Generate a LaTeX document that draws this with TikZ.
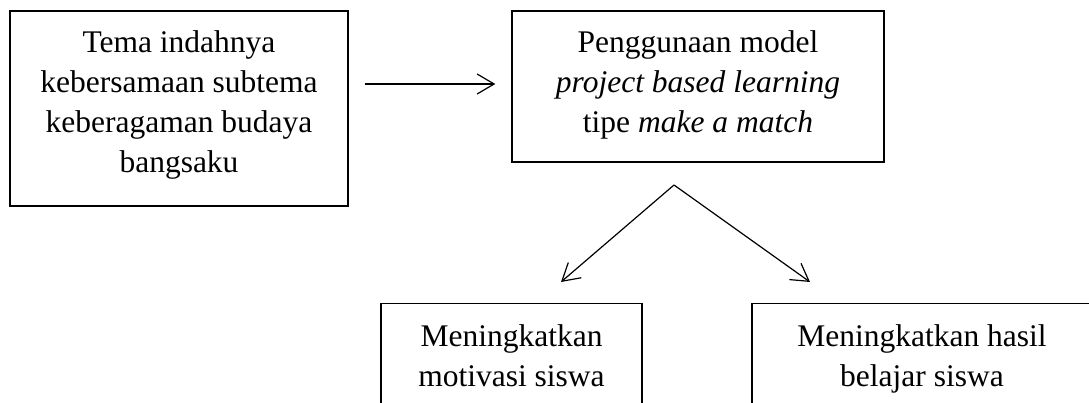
\documentclass[tikz,border=0pt]{standalone}
\usepackage{fontspec}
\setmainfont{Liberation Serif}
\usetikzlibrary{arrows.meta}
\begin{document}
\begin{tikzpicture}[x=1pt,y=-1pt,
  box/.style={draw=black, line width=1.4pt, inner xsep=0pt, align=center,
    font=\fontsize{31.5}{40}\selectfont},
  arr/.style={line width=1.2pt, -{Straight Barb[length=17pt,width=20pt,line width=1.2pt]}}]
\useasboundingbox (0,0) rectangle (1089,403);
\node[box, minimum width=338pt, minimum height=195pt, inner ysep=0pt, text depth=14.8pt] (left) at (179,108.5)
  {Tema indahnya\\kebersamaan subtema\\keberagaman budaya\\bangsaku};
\node[box, minimum width=372pt, minimum height=151pt, inner ysep=0pt, text depth=10pt] (mid) at (698,86.5)
  {Penggunaan model\\\textit{project based learning}\\tipe \textit{make a match}};
\node[box, minimum width=261pt, inner ysep=21pt, text depth=25pt, anchor=north] (bl) at (511.5,303)
  {Meningkatkan\\motivasi siswa};
\node[box, minimum width=340pt, inner ysep=21pt, text depth=25pt, anchor=north] (br) at (922,303)
  {Meningkatkan hasil\\belajar siswa};
\coordinate (ay) at (0,84);
\coordinate (apex) at (674,185);
\coordinate (tipl) at (561,282);
\coordinate (tipr) at (810,282);
\draw[arr, shorten <=16pt, shorten >=16pt] (left.east |- ay) -- (mid.west |- ay);
\draw[arr] (apex) -- (tipl);
\draw[arr] (apex) -- (tipr);
\end{tikzpicture}
\end{document}
